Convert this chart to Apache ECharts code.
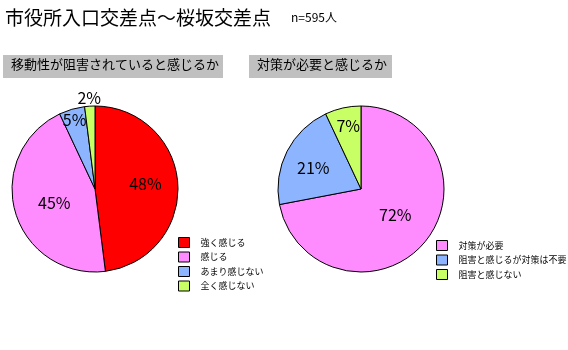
<!DOCTYPE html>
<html><head><meta charset="utf-8">
<script src="https://cdn.jsdelivr.net/npm/echarts@6/dist/echarts.min.js"></script>
<style>html,body{margin:0;padding:0;background:#fff}#c{width:568px;height:350px}</style>
</head><body><div id="c"></div>
<script>
const mainTitle = '市役所入口交差点～桜坂交差点';
const sampleText = 'n=595人';
const leftTitle = '移動性が阻害されていると感じるか';
const rightTitle = '対策が必要と感じるか';
const leftNames = ['強く感じる', '感じる', 'あまり感じない', '全く感じない'];
const leftValues = [48, 45, 5, 2];
const rightNames = ['対策が必要', '阻害と感じるが対策は不要', '阻害と感じない'];
const rightValues = [72, 21, 7];

const colRed = '#FF0000', colPink = '#FF8CFF', colBlue = '#8CB4FF', colGreen = '#C8FF64';
const leftColors = [colRed, colPink, colBlue, colGreen];
const rightColors = [colPink, colBlue, colGreen];
const leftOffsets = [[6, -2], [2, 2], [-8, -26], [-3, -47]];
const rightOffsets = [[0, -2], [-8, -1], [-3, -20]];
const FONT = '"Noto Sans CJK JP", sans-serif';

function mk(names, values, colors, offsets) {
  return names.map((n, i) => ({
    name: n, value: values[i],
    itemStyle: { color: colors[i] },
    label: { offset: offsets[i] }
  }));
}
const pieBase = {
  type: 'pie', radius: 83, startAngle: 90, clockwise: true,
  animation: false, silent: true,
  itemStyle: { borderColor: '#000', borderWidth: 1 },
  label: { show: true, position: 'inside', formatter: '{c}%', color: '#000', fontSize: 16, fontFamily: FONT },
  labelLine: { show: false },
  emphasis: { disabled: true }
};
const legendBase = {
  orient: 'vertical', icon: 'rect', itemWidth: 11, itemHeight: 10, itemGap: 3.5,
  textStyle: { fontSize: 9, lineHeight: 10, color: '#000', fontFamily: FONT, padding: [0, 0, 0, 6] },
  itemStyle: { borderColor: '#000', borderWidth: 1 },
  selectedMode: false, padding: 0
};
const chart = echarts.init(document.getElementById('c'));
chart.setOption({
  backgroundColor: '#fff',
  graphic: [
    { type: 'text', left: 5, top: 8, style: { text: mainTitle, fontSize: 19, fontFamily: FONT, fill: '#000' } },
    { type: 'text', left: 291, top: 11, style: { text: sampleText, fontSize: 12, fontFamily: FONT, fill: '#000' } },
    { type: 'rect', shape: { x: 3, y: 55, width: 220, height: 23 }, style: { fill: '#C0C0C0' } },
    { type: 'text', left: 11, top: 58, style: { text: leftTitle, fontSize: 13, fontFamily: FONT, fill: '#000' } },
    { type: 'rect', shape: { x: 249, y: 55, width: 143, height: 23 }, style: { fill: '#C0C0C0' } },
    { type: 'text', left: 257, top: 58, style: { text: rightTitle, fontSize: 13, fontFamily: FONT, fill: '#000' } }
  ],
  legend: [
    Object.assign({}, legendBase, { left: 178, top: 237, data: leftNames }),
    Object.assign({}, legendBase, { left: 436, top: 240, data: rightNames })
  ],
  series: [
    Object.assign({}, pieBase, { center: [95, 189], data: mk(leftNames, leftValues, leftColors, leftOffsets) }),
    Object.assign({}, pieBase, { center: [361, 189], data: mk(rightNames, rightValues, rightColors, rightOffsets) })
  ]
});
</script></body></html>
